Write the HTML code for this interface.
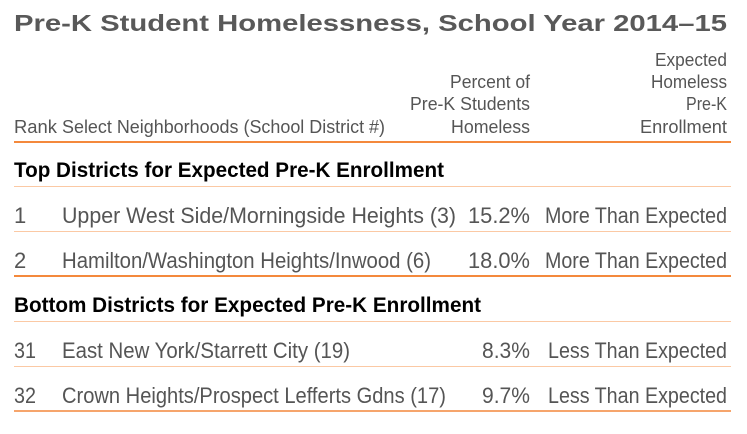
<!DOCTYPE html>
<html><head><meta charset="utf-8"><style>
html,body{margin:0;padding:0;background:#fff;width:747px;height:434px;overflow:hidden}
svg{display:block}
text{font-family:"Liberation Sans",sans-serif}
.t{font-size:23px;font-weight:bold;fill:#595959}
.h{font-size:18.5px;fill:#555}
.s{font-size:21px;font-weight:bold;fill:#000}
.r{font-size:22px;fill:#555}
</style></head><body>
<svg width="747" height="434" viewBox="0 0 747 434">
<text class="t" x="14" y="31" textLength="713" lengthAdjust="spacingAndGlyphs">Pre-K Student Homelessness, School Year 2014–15</text>
<text class="h" x="14" y="133" textLength="43" lengthAdjust="spacingAndGlyphs">Rank</text>
<text class="h" x="62" y="133" textLength="323" lengthAdjust="spacingAndGlyphs">Select Neighborhoods (School District #)</text>
<text class="h" x="450" y="88" textLength="80" lengthAdjust="spacingAndGlyphs">Percent of</text>
<text class="h" x="410" y="110" textLength="120" lengthAdjust="spacingAndGlyphs">Pre-K Students</text>
<text class="h" x="451" y="133" textLength="79" lengthAdjust="spacingAndGlyphs">Homeless</text>
<text class="h" x="655" y="66" textLength="72" lengthAdjust="spacingAndGlyphs">Expected</text>
<text class="h" x="651" y="88" textLength="76" lengthAdjust="spacingAndGlyphs">Homeless</text>
<text class="h" x="686" y="110" textLength="41" lengthAdjust="spacingAndGlyphs">Pre-K</text>
<text class="h" x="640" y="133" textLength="87" lengthAdjust="spacingAndGlyphs">Enrollment</text>
<rect x="14" y="141" width="717" height="2" fill="#f4893c"/>
<text class="s" x="14" y="177" textLength="430" lengthAdjust="spacingAndGlyphs">Top Districts for Expected Pre-K Enrollment</text>
<rect x="14" y="186" width="717" height="1" fill="#fbc9a4"/>
<text class="r" x="14" y="223">1</text>
<text class="r" x="62" y="223" textLength="394" lengthAdjust="spacingAndGlyphs">Upper West Side/Morningside Heights (3)</text>
<text class="r" x="468" y="223" textLength="62" lengthAdjust="spacingAndGlyphs">15.2%</text>
<text class="r" x="545" y="223" textLength="182" lengthAdjust="spacingAndGlyphs">More Than Expected</text>
<rect x="14" y="231" width="717" height="1" fill="#fbc9a4"/>
<text class="r" x="14" y="268">2</text>
<text class="r" x="62" y="268" textLength="369" lengthAdjust="spacingAndGlyphs">Hamilton/Washington Heights/Inwood (6)</text>
<text class="r" x="468" y="268" textLength="62" lengthAdjust="spacingAndGlyphs">18.0%</text>
<text class="r" x="545" y="268" textLength="182" lengthAdjust="spacingAndGlyphs">More Than Expected</text>
<rect x="14" y="275" width="717" height="2" fill="#f4893c"/>
<text class="s" x="14" y="312" textLength="467" lengthAdjust="spacingAndGlyphs">Bottom Districts for Expected Pre-K Enrollment</text>
<rect x="14" y="321" width="717" height="1" fill="#fbc9a4"/>
<text class="r" x="14" y="358" textLength="22" lengthAdjust="spacingAndGlyphs">31</text>
<text class="r" x="62" y="358" textLength="288" lengthAdjust="spacingAndGlyphs">East New York/Starrett City (19)</text>
<text class="r" x="482" y="358" textLength="48" lengthAdjust="spacingAndGlyphs">8.3%</text>
<text class="r" x="548" y="358" textLength="179" lengthAdjust="spacingAndGlyphs">Less Than Expected</text>
<rect x="14" y="366" width="717" height="1" fill="#fbc9a4"/>
<text class="r" x="14" y="403" textLength="22" lengthAdjust="spacingAndGlyphs">32</text>
<text class="r" x="62" y="403" textLength="384" lengthAdjust="spacingAndGlyphs">Crown Heights/Prospect Lefferts Gdns (17)</text>
<text class="r" x="482" y="403" textLength="48" lengthAdjust="spacingAndGlyphs">9.7%</text>
<text class="r" x="548" y="403" textLength="179" lengthAdjust="spacingAndGlyphs">Less Than Expected</text>
<rect x="14" y="410" width="717" height="2" fill="#f6a56c"/>
</svg>
</body></html>
